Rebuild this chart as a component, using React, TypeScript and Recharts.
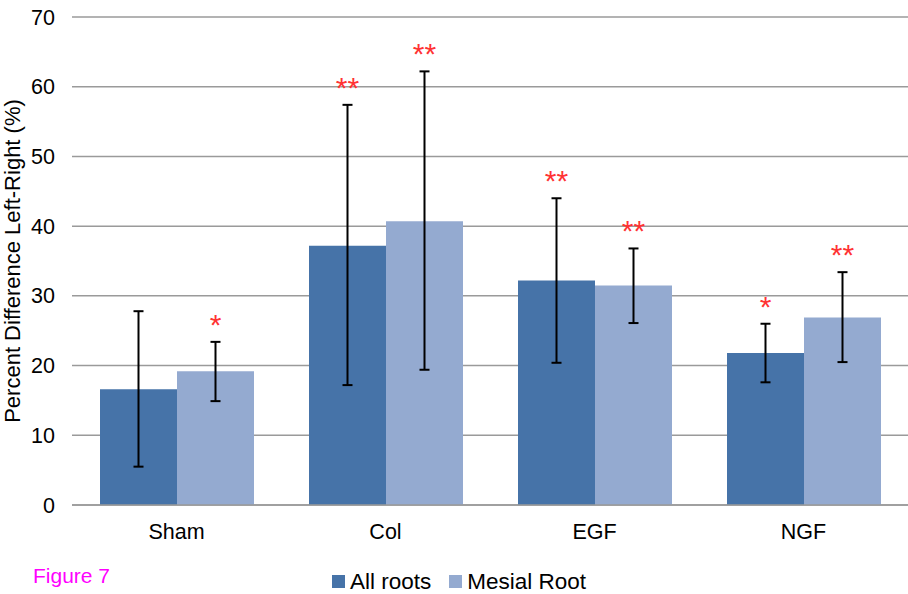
import React from "react";
import {
  BarChart,
  Bar,
  XAxis,
  YAxis,
  CartesianGrid,
  ErrorBar,
  LabelList,
} from "recharts";

const categories = ["Sham", "Col", "EGF", "NGF"];
const allRoots = [16.6, 37.2, 32.2, 21.8];
const allRootsLow = [5.5, 17.2, 20.4, 17.6];
const allRootsHigh = [27.8, 57.4, 44.0, 26.0];
const mesialRoot = [19.2, 40.7, 31.5, 26.9];
const mesialLow = [14.9, 19.4, 26.1, 20.5];
const mesialHigh = [23.4, 62.2, 36.8, 33.4];
const allStars = ["", "**", "**", "*"];
const mesialStars = ["*", "**", "**", "**"];
const yTicks = [0, 10, 20, 30, 40, 50, 60, 70];

const data = categories.map((name, i) => ({
  name,
  all: allRoots[i],
  allErr: [allRoots[i] - allRootsLow[i], allRootsHigh[i] - allRoots[i]],
  allStar: allStars[i],
  mesial: mesialRoot[i],
  mesialErr: [mesialRoot[i] - mesialLow[i], mesialHigh[i] - mesialRoot[i]],
  mesialStar: mesialStars[i],
}));

const FONT = "'Liberation Sans', Arial, Helvetica, sans-serif";
const DARK = "#4673a8";
const LIGHT = "#94aad0";

// star sits above the top of the error bar; scale taken from bar geometry
const starLabel = (values: number[], highs: number[]) => (props: any) => {
  const vb = props.viewBox || props;
  const { x, y, width, height } = vb;
  const i = props.index;
  if (!props.value) return null;
  const perUnit = height / values[i];
  const errTop = y + height - highs[i] * perUnit;
  return (
    <text
      x={x + width / 2}
      y={errTop - 7}
      textAnchor="middle"
      fill="#ff3333"
      fontSize={30}
      fontFamily={FONT}
    >
      {props.value}
    </text>
  );
};

const YTitle = (props: any) => {
  const vb = props.viewBox;
  const cy = vb.y + vb.height / 2;
  return (
    <text
      x={12}
      y={cy}
      transform={`rotate(-90, 12, ${cy})`}
      textAnchor="middle"
      dominantBaseline="central"
      fontSize={22}
      fontFamily={FONT}
      fill="#000"
    >
      Percent Difference Left-Right (%)
    </text>
  );
};

export default function App() {
  return (
    <div
      style={{
        position: "absolute",
        left: 0,
        top: 0,
        width: 908,
        height: 594,
        background: "#fff",
        fontFamily: FONT,
      }}
    >
      <BarChart
        width={908}
        height={594}
        data={data}
        margin={{ top: 17, right: 0, bottom: 59, left: 0 }}
        barCategoryGap={28}
        barGap={0}
      >
        <CartesianGrid
          horizontal={true}
          vertical={false}
          stroke="#9a9a9a"
          strokeWidth={1.5}
        />
        <XAxis
          dataKey="name"
          height={30}
          tickLine={false}
          axisLine={{ stroke: "#9a9a9a", strokeWidth: 1.5 }}
          tickSize={0}
          tickMargin={19}
          tick={{ fontSize: 21.5, fill: "#000", fontFamily: FONT }}
        />
        <YAxis
          width={72}
          domain={[0, 70]}
          ticks={yTicks}
          tickLine={false}
          axisLine={false}
          tickSize={0}
          tickMargin={17}
          tick={{ fontSize: 21.5, fill: "#000", fontFamily: FONT }}
          label={<YTitle />}
        />
        <Bar dataKey="all" fill={DARK} isAnimationActive={false}>
          <ErrorBar
            dataKey="allErr"
            width={5}
            stroke="#000"
            strokeWidth={2}
            isAnimationActive={false}
          />
          <LabelList
            dataKey="allStar"
            content={starLabel(allRoots, allRootsHigh)}
          />
        </Bar>
        <Bar dataKey="mesial" fill={LIGHT} isAnimationActive={false}>
          <ErrorBar
            dataKey="mesialErr"
            width={5}
            stroke="#000"
            strokeWidth={2}
            isAnimationActive={false}
          />
          <LabelList
            dataKey="mesialStar"
            content={starLabel(mesialRoot, mesialHigh)}
          />
        </Bar>
      </BarChart>
      <div
        style={{
          position: "absolute",
          left: 33,
          top: 565,
          fontSize: 21,
          lineHeight: "21px",
          color: "#ff00ff",
        }}
      >
        Figure 7
      </div>
      <div
        style={{
          position: "absolute",
          left: 332,
          top: 571,
          display: "flex",
          alignItems: "center",
          fontSize: 22.5,
          lineHeight: "21px",
          color: "#000",
        }}
      >
        <span style={{ width: 13, height: 13, background: DARK, marginRight: 5 }} />
        <span style={{ marginRight: 18 }}>All roots</span>
        <span style={{ width: 13, height: 13, background: LIGHT, marginRight: 5 }} />
        <span>Mesial Root</span>
      </div>
    </div>
  );
}
